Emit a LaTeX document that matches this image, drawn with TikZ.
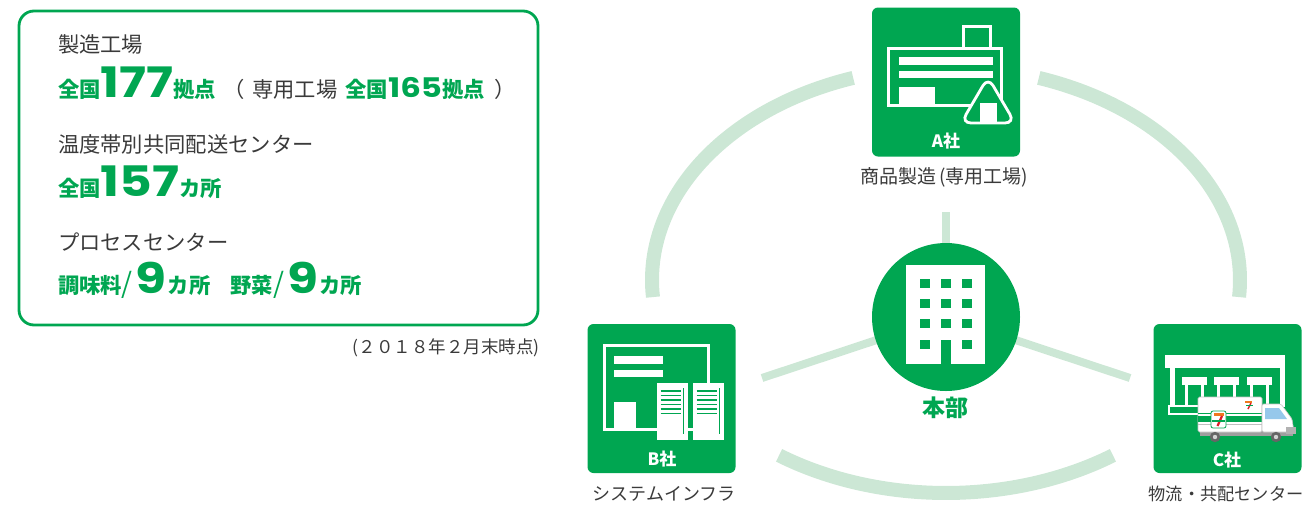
\documentclass[tikz,border=0pt]{standalone}
\usepackage{fontspec}
\setmainfont{Noto Sans CJK JP}
\newfontfamily\numf{Poppins}[FakeStretch=1.2]
\usetikzlibrary{calc}
\definecolor{grn}{RGB}{0,166,81}
\definecolor{ring}{RGB}{204,231,213}
\definecolor{txt}{RGB}{58,58,58}
\definecolor{winblue}{RGB}{150,200,235}
\definecolor{logoor}{RGB}{240,120,30}
\definecolor{logored}{RGB}{220,30,40}
\newcommand\fs[1]{\fontsize{#1}{#1}\selectfont}

\begin{document}
\begin{tikzpicture}[x=1pt,y=-1pt,
  line/.style={anchor=base west, inner sep=0pt, outer sep=0pt, text=txt, font=\fs{21.3}},
  ringarc/.style={draw=ring, line width=14pt},
  spoke/.style={draw=ring, line width=8pt},
  cobox/.style={fill=grn, rounded corners=6pt, minimum width=148pt, minimum height=149pt, inner sep=0pt},
  coname/.style={text=white, font=\bfseries\fs{17}, inner sep=0pt},
  caption/.style={text=txt, font=\fs{18}, inner sep=0pt, anchor=base},
  wline/.style={draw=white, line width=2.8pt},
  gline/.style={draw=grn, line width=1.4pt}
]
\useasboundingbox (0,0) rectangle (1304,504);

% ---------- summary panel ----------
\draw[grn, line width=2.8pt, rounded corners=15pt] (19,11) rectangle (538,325);

\node[line] (l1) at (58,52) {製造工場};
\node[line] (l2) at (58,97) {{\bfseries\color{grn}全国{\numf\fs{42}177}拠点}\hspace{7pt}（\hspace{8pt}専用工場\hspace{8pt}{\bfseries\color{grn}全国{\numf\fs{27}165}拠点}\hspace{10pt}）};
\node[line] (l3) at (58,152) {温度帯別共同配送センター};
\node[line] (l4) at (58,196) {{\bfseries\color{grn}全国{\numf\fs{42}157}カ所}};
\node[line] (l5) at (58,250) {プロセスセンター};
\node[line] (l6) at (58,293) {{\bfseries\color{grn}調味料{\mdseries\fs{28}/}\hspace{3pt}{\numf\fs{42}9}\hspace{1pt}カ所\hspace{20pt}野菜{\mdseries\fs{28}/}\hspace{3pt}{\numf\fs{42}9}\hspace{1pt}カ所}};
\node[anchor=base east, inner sep=0pt, text=txt, font=\fs{17.5}] (asof) at (540,353) {(２０１８年２月末時点)};

% ---------- connecting ring ----------
\coordinate (rc) at (946,280);
\draw[ringarc] (rc) ++(175.4:294 and 213) arc[start angle=175.4, end angle=251.6, x radius=294, y radius=213];
\draw[ringarc] (rc) ++(-71.6:294 and 213) arc[start angle=-71.6, end angle=4.6, x radius=294, y radius=213];
\draw[ringarc] (rc) ++(55.4:294 and 213) arc[start angle=55.4, end angle=124.6, x radius=294, y radius=213];

% ---------- spokes and head office ----------
\coordinate (hqc) at (946,317);
\coordinate (spA) at (946,212);
\coordinate (spB) at (762,378);
\coordinate (spC) at (1130,378);
\draw[spoke] (spA) -- (hqc);
\draw[spoke] (spB) -- (hqc);
\draw[spoke] (spC) -- (hqc);
\node[circle, fill=grn, minimum size=148pt, inner sep=0pt] (hq) at (hqc) {};
\fill[white] (906,265) rectangle (985,364);
\foreach \wx in {920,941,962}{
  \foreach \wy in {279,299,319}{
    \fill[grn] (\wx,\wy) rectangle ++(10,9);
  }
}
\fill[grn] (920,340) rectangle ++(10,9);
\fill[grn] (962,340) rectangle ++(10,9);
\fill[grn] (941,340) rectangle (951,364.5);
\node[text=grn, font=\bfseries\fs{23}, inner sep=0pt] (hqname) at (945,408) {本部};

% ---------- A: food factory ----------
\node[cobox] (A) at (946,82) {};
\draw[wline] (888.4,48.4) rectangle (1001.6,105.6);
\draw[wline] (963.4,26.4) rectangle (990.6,48.4);
\fill[white] (899,57) rectangle (993,65);
\fill[white] (899,71) rectangle (993,78);
\fill[white] (899,87) rectangle (935,105);
\draw[wline, fill=grn, rounded corners=10pt] (988,77) -- (1015,123) -- (961,123) -- cycle;
\fill[white] (980,103) rectangle (997,121.6);
\node[coname] (Aname) at (946,141) {A社};
\node[caption, font=\fs{19}] (Acap) at (944,183) {商品製造\,(専用工場)};

% ---------- B: system infrastructure ----------
\node[cobox] (B) at (661.5,398.5) {};
\draw[wline] (604.4,345.4) rectangle (708.6,429.6);
\fill[white] (614,356) rectangle (663,364);
\fill[white] (614,370) rectangle (663,377);
\fill[white] (614,402) rectangle (636,430);
\foreach \sx in {657,693}{
  \fill[white] (\sx,383) rectangle ++(31,57);
  \foreach \ly in {391,395.5,400,404.5,409,413.5}{
    \draw[gline] (\sx+3.5,\ly) -- ++(20,0);
  }
  \draw[gline] (\sx+26.5,388) -- (\sx+26.5,434);
}
\node[coname] (Bname) at (662,459) {B社};
\node[caption] (Bcap) at (664,500) {システムインフラ};

% ---------- C: logistics centre ----------
\node[cobox] (C) at (1227.5,398.5) {};
\fill[white] (1165,355) rectangle (1285,368);
\fill[white] (1170,368) rectangle (1175,407);
\fill[white] (1280,368) rectangle (1285,407);
\foreach \dx in {1182,1214,1247}{
  \fill[white] (\dx,377) rectangle ++(25,8);
  \fill[white] (\dx+3,385) rectangle ++(3,22);
  \fill[white] (\dx+19,385) rectangle ++(3,22);
}
\draw[draw=white, line width=2pt] (1169,406) rectangle (1199,414);
% delivery truck
\fill[gray!75] (1200,430) rectangle (1293,436);
\draw[fill=white, draw=gray!45, line width=0.6pt, rounded corners=1.5pt] (1198,397) rectangle (1262,432);
\fill[grn] (1198,416) rectangle (1262,421.5);
\draw[grn, line width=0.8pt] (1198,413.5) -- (1262,413.5);
\draw[gray!50, line width=0.6pt] (1198,424) -- (1262,424);
\draw[fill=white, draw=gray!45, line width=0.6pt, rounded corners=1.5pt] (1262,404) -- (1281,404) -- (1292,419) -- (1294,432) -- (1262,432) -- cycle;
\fill[winblue] (1265,408) -- (1279,408) -- (1287,419) -- (1265,419) -- cycle;
\fill[gray!60] (1286,427) rectangle (1296,434);
% emblem on the side of the box
\fill[white, draw=grn, line width=0.8pt, rounded corners=2pt] (1211,411) rectangle (1226,428);
\fill[logoor] (1213.5,413) rectangle (1223.5,416);
\draw[logored, line width=2.2pt] (1222,416) -- (1217.5,426);
\fill[grn] (1212,419.5) rectangle (1225,421.5);
% small emblem on the upper corner
\fill[logoor] (1245,401) rectangle (1252,403);
\draw[logored, line width=1.4pt] (1251,403) -- (1248,409);
\fill[grn] (1245.5,405) rectangle (1252.5,406);
% wheels
\foreach \wx in {1215,1276}{
  \fill[gray!80!black] (\wx,437) circle (5.2);
  \fill[gray!35] (\wx,437) circle (2.2);
}
\node[coname] (Cname) at (1227,460) {C社};
\node[caption, font=\fs{17.2}] (Ccap) at (1226,500) {物流・共配センター};

\end{tikzpicture}
\end{document}
